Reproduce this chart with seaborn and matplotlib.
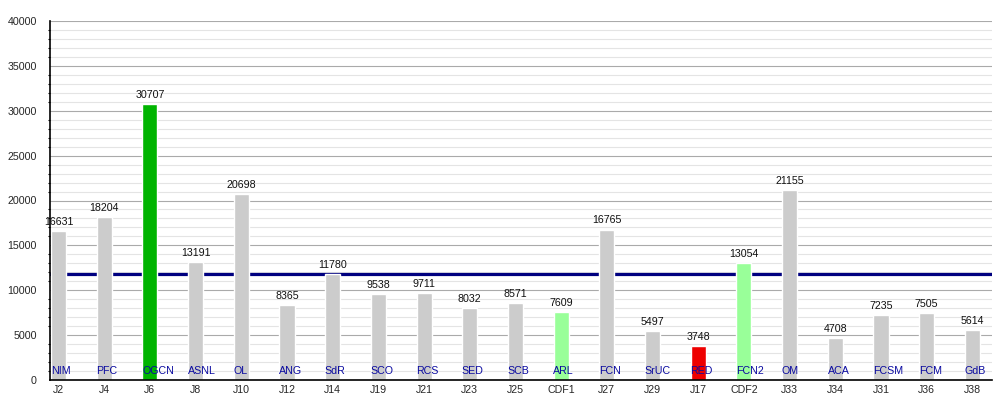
import numpy as np
import pandas as pd
import seaborn as sns
import matplotlib.pyplot as plt
from matplotlib.ticker import MultipleLocator

codes = ['J2', 'J4', 'J6', 'J8', 'J10', 'J12', 'J14', 'J19', 'J21', 'J23', 'J25',
         'CDF1', 'J27', 'J29', 'J17', 'CDF2', 'J33', 'J34', 'J31', 'J36', 'J38']
names = ['NIM', 'PFC', 'OGCN', 'ASNL', 'OL', 'ANG', 'SdR', 'SCO', 'RCS', 'SED', 'SCB',
         'ARL', 'FCN', 'SrUC', 'RED', 'FCN2', 'OM', 'ACA', 'FCSM', 'FCM', 'GdB']
values = [16631, 18204, 30707, 13191, 20698, 8365, 11780, 9538, 9711, 8032, 8571,
          7609, 16765, 5497, 3748, 13054, 21155, 4708, 7235, 7505, 5614]
bar_colors = ['#cccccc', '#cccccc', '#00b400', '#cccccc', '#cccccc', '#cccccc', '#cccccc',
              '#cccccc', '#cccccc', '#cccccc', '#cccccc', '#99ff99', '#cccccc', '#cccccc',
              '#ee0000', '#99ff99', '#cccccc', '#cccccc', '#cccccc', '#cccccc', '#cccccc']

df = pd.DataFrame({'code': codes, 'name': names, 'value': values})
average = np.mean(values)

sns.set_style('white')
plt.rcParams['font.family'] = ['Liberation Sans', 'DejaVu Sans']

fig = plt.figure(figsize=(10, 4), dpi=100)
ax = fig.add_axes([0.05, 0.05, 0.942, 0.8975])

# average line behind bars
ax.axhline(average, color='#000080', lw=2.3, zorder=1)

sns.barplot(data=df, x='code', y='value', hue='code', palette=bar_colors,
            legend=False, width=0.33, saturation=1, ax=ax, zorder=2)

for i, (v, n) in enumerate(zip(values, names)):
    ax.text(i, v + 450, str(v), ha='center', va='bottom', fontsize=7.7, color='#111111', zorder=3)
    ax.text(i - 0.17, 1000, n, ha='left', va='center', fontsize=7.7, color='#0a0aa0', zorder=3)

ax.set_ylim(0, 40000)
ax.set_xlim(-0.186, 20.43)
ax.yaxis.set_major_locator(MultipleLocator(5000))
ax.yaxis.set_minor_locator(MultipleLocator(1000))
ax.grid(which='major', axis='y', color='#aaaaaa', lw=0.8, zorder=0)
ax.grid(which='minor', axis='y', color='#e4e4e4', lw=0.8, zorder=0)
ax.set_axisbelow(True)

ax.tick_params(axis='y', which='major', length=3.6, width=1, color='black', labelsize=7.7, pad=5.8)
ax.tick_params(axis='y', which='minor', length=1.8, width=0.8, color='black', left=True)
ax.tick_params(axis='x', length=0, labelsize=7.7, pad=3.5)
ax.set_xlabel('')
ax.set_ylabel('')

for s in ['top', 'right']:
    ax.spines[s].set_visible(False)
for s in ['left', 'bottom']:
    ax.spines[s].set_color('black')
    ax.spines[s].set_linewidth(1.2)

fig.savefig('out.png', dpi=100)
